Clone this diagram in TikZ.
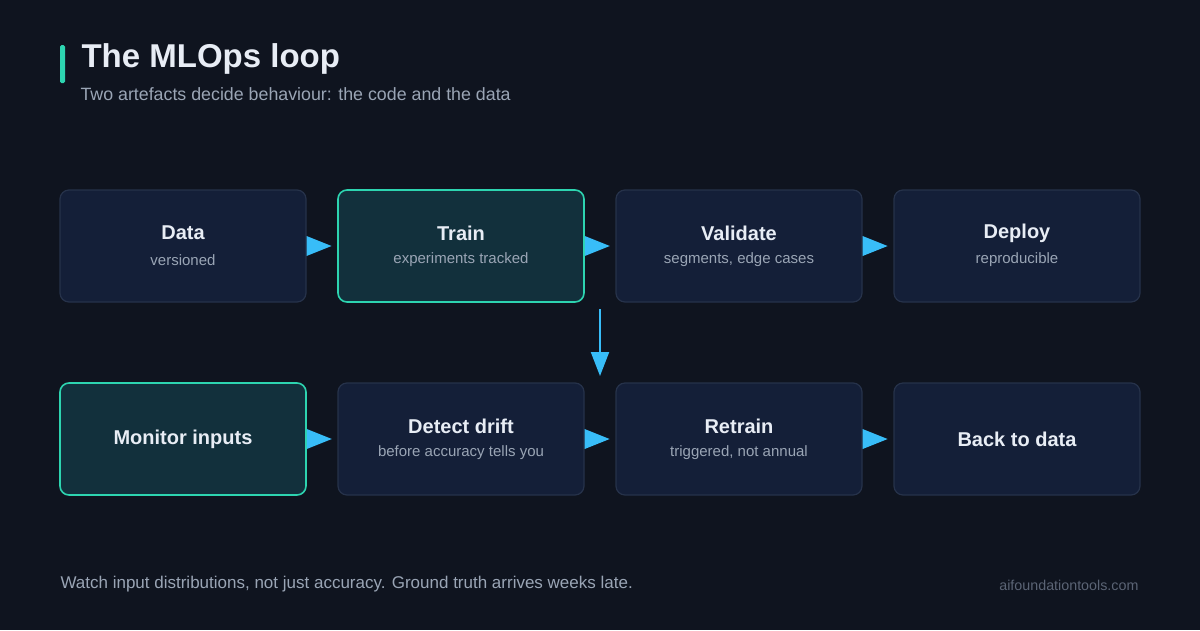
\documentclass[tikz,border=0pt]{standalone}
\usepackage{fontspec}
\setmainfont{Liberation Sans}
\usetikzlibrary{arrows.meta}
\definecolor{bg}{HTML}{0F141F}
\definecolor{boxf}{HTML}{141F38}
\definecolor{boxd}{HTML}{26324A}
\definecolor{hif}{HTML}{12303C}
\definecolor{hid}{HTML}{2DD4B0}
\definecolor{arr}{HTML}{38BDF8}
\definecolor{tt}{HTML}{E8EDF5}
\definecolor{sub}{HTML}{9AA5B5}
\definecolor{dim}{HTML}{5B6475}
\begin{document}
\begin{tikzpicture}[x=1pt,y=-1pt,
 box/.style={draw=boxd,line width=1.2pt,fill=boxf,rounded corners=9pt,minimum width=246pt,minimum height=112pt,inner sep=0pt},
 hi/.style={box,draw=hid,fill=hif,line width=1.6pt},
 ttl/.style={font=\fontsize{20}{23}\selectfont\bfseries,text=tt},
 sb/.style={font=\fontsize{15}{17}\selectfont,text=sub},
 tri/.style={draw=none,fill=arr},
 con/.style={draw=arr,line width=2pt,-{Triangle[length=24pt,width=18pt]}}]
\fill[bg] (0,0) rectangle (1200,630);
\useasboundingbox (0,0) rectangle (1200,630);
\fill[hid,rounded corners=1.5pt] (60,45) rectangle (65,83);
\node[anchor=west,font=\fontsize{33}{37}\selectfont\bfseries,text=tt] (title) at (78,59) {The MLOps loop};
\node[anchor=west,font=\fontsize{17.8}{20}\selectfont,text=sub] (subt) at (77,94) {Two artefacts decide behaviour: the code and the data};
\def\bx#1#2#3#4#5#6{\node[#6] (#1) at (#2,#3) {};
 \node[ttl] at (#2,#3-13) {#4};\node[sb] at (#2,#3+14) {#5};}
\bx{data}{183}{246}{Data}{versioned}{box}
\bx{train}{461}{246}{Train}{experiments tracked}{hi}
\bx{valid}{739}{246}{Validate}{segments, edge cases}{box}
\bx{deploy}{1017}{246}{Deploy}{reproducible}{box}
\node[hi] (mon) at (183,439) {};\node[ttl] at (183,439) {Monitor inputs};
\bx{drift}{461}{439}{Detect drift}{before accuracy tells you}{box}
\bx{retrain}{739}{439}{Retrain}{triggered, not annual}{box}
\node[box] (back) at (1017,439) {};\node[ttl] at (1017,439) {Back to data};
\foreach \a/\b in {data/train,train/valid,valid/deploy,mon/drift,drift/retrain,retrain/back}
 \fill[arr] (\a.east) ++(0,-10) -- ++(25,10) -- ++(-25,10) -- cycle;
\coordinate (dtop) at (600,309);
\coordinate (dbot) at (600,376);
\draw[con] (dtop) -- (dbot);
\node[anchor=west,font=\fontsize{17}{20}\selectfont,text=sub] (foot) at (57,584) {Watch input distributions, not just accuracy. Ground truth arrives weeks late.};
\node[anchor=east,font=\fontsize{14.3}{17}\selectfont,text=dim] (site) at (1142,585) {aifoundationtools.com};
\end{tikzpicture}
\end{document}
